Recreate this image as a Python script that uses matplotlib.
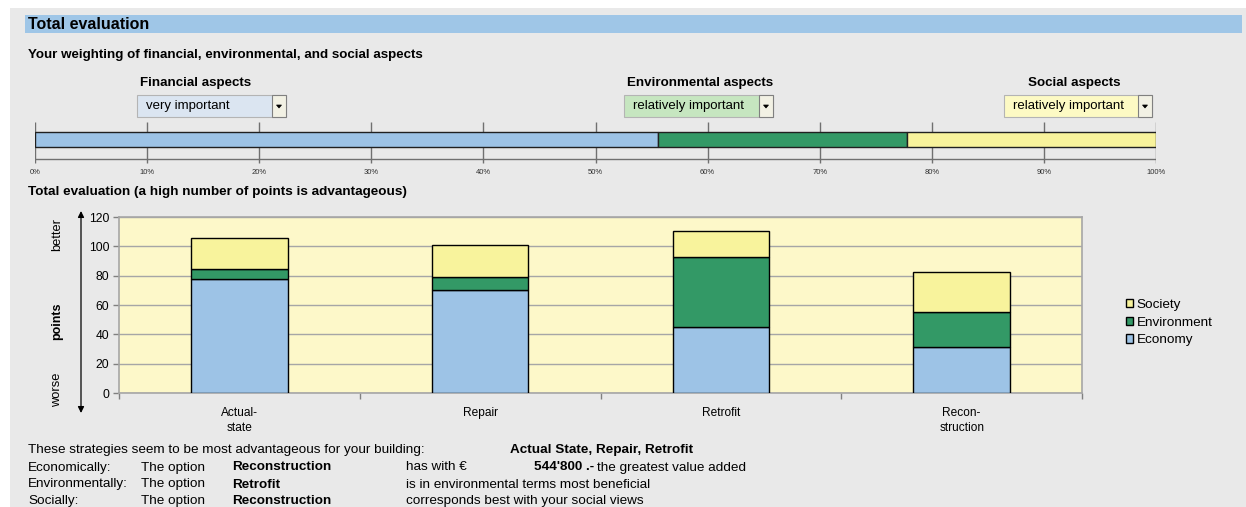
import matplotlib
matplotlib.use('Agg')
import matplotlib.pyplot as plt
from matplotlib.patches import Rectangle, Polygon

plt.rcParams['font.family'] = ['Liberation Sans', 'DejaVu Sans']

# ---------------------------------------------------------------------------
# Data
# ---------------------------------------------------------------------------

aspects = ['Financial aspects', 'Environmental aspects', 'Social aspects']
importance = ['very important', 'relatively important', 'relatively important']
weight_pct = [55.6, 22.2, 22.2]
weight_ticks = [0, 10, 20, 30, 40, 50, 60, 70, 80, 90, 100]

categories = ['Actual-\nstate', 'Repair', 'Retrofit', 'Recon-\nstruction']
economy = [77.4, 70.2, 44.8, 31.2]
environment = [7.3, 9.0, 47.6, 23.8]
society = [21.0, 22.0, 18.1, 27.4]
y_ticks = [0, 20, 40, 60, 80, 100, 120]

summary_rows = [
    ('These strategies seem to be most advantageous for your building:', '', '', ''),
    ('Economically:', 'The option', 'Reconstruction', 'has with \u20ac'),
    ('Environmentally:', 'The option', 'Retrofit', 'is in environmental terms most beneficial'),
    ('Socially:', 'The option', 'Reconstruction', 'corresponds best with your social views'),
]
best_overall = 'Actual State, Repair, Retrofit'
value_added = "544'800 .-"

# colours
C_ECO = '#9dc3e6'
C_ENV = '#339966'
C_SOC = '#f8f39c'
C_PAGE = '#e9e9e9'
C_HEAD = '#9fc6e7'
C_PLOT = '#fdf8c9'
C_GRID = '#a6a6a6'
BOX_COLS = ['#dbe5f1', '#c6e6c0', '#fdfac4']

W, H = 1246, 507


def fx(x):
    return x / W


def fy(y):
    return 1 - y / H


fig = plt.figure(figsize=(W / 100, H / 100), dpi=100)
fig.patch.set_facecolor('white')

# page background and header strip
fig.patches.append(Rectangle((fx(10), 0), 1, fy(8), transform=fig.transFigure,
                             facecolor=C_PAGE, edgecolor='none', zorder=-10))
fig.patches.append(Rectangle((fx(25), fy(33)), fx(1242 - 25), 18 / H, transform=fig.transFigure,
                             facecolor=C_HEAD, edgecolor='none', zorder=-9))
fig.text(fx(28), fy(24.5), 'Total evaluation', fontsize=11.5, fontweight='bold', va='center')
fig.text(fx(28), fy(55), 'Your weighting of financial, environmental, and social aspects',
         fontsize=9.6, fontweight='bold', va='center')

# ---------------------------------------------------------------------------
# Drop-down boxes
# ---------------------------------------------------------------------------
title_x = [140, 627, 1028]
box_x = [(137, 286), (624, 773), (1004, 1152)]
text_x = [146, 633, 1013]
for name, imp, tx, (x0, x1), bx, col in zip(aspects, importance, title_x, box_x, text_x, BOX_COLS):
    fig.text(fx(tx), fy(83), name, fontsize=9.6, fontweight='bold', va='center')
    fig.patches.append(Rectangle((fx(x0), fy(117)), fx(x1 - x0), 22 / H, transform=fig.transFigure,
                                 facecolor=col, edgecolor='#b4b4b4', lw=0.8))
    fig.patches.append(Rectangle((fx(x1 - 14), fy(117)), fx(14), 22 / H, transform=fig.transFigure,
                                 facecolor='#f2f1e4', edgecolor='#808080', lw=0.8))
    cx = x1 - 7
    fig.patches.append(Polygon([(fx(cx - 2.5), fy(105)), (fx(cx + 2.5), fy(105)), (fx(cx), fy(108))],
                               closed=True, transform=fig.transFigure, facecolor='black',
                               edgecolor='black', lw=0.5))
    fig.text(fx(bx), fy(105.5), imp, fontsize=9.5, va='center')

# ---------------------------------------------------------------------------
# Weighting bar
# ---------------------------------------------------------------------------
axw = fig.add_axes([fx(35), fy(167), fx(1156 - 35), 45 / H])
axw.set_xlim(0, 100)
axw.set_ylim(45, 0)
axw.axis('off')
axw.vlines(weight_ticks, 0, 41, color='#707070', lw=1, zorder=1)
axw.hlines(37, 0, 100, color='#707070', lw=1, zorder=1)
left = 0
for w, col in zip(weight_pct, [C_ECO, C_ENV, C_SOC]):
    axw.barh(17.5, w, left=left, height=15, color=col, edgecolor='#202020', lw=1, zorder=2)
    left += w
for t in weight_ticks:
    axw.text(t, 51, f'{t}%', fontsize=5.5, ha='center', va='center', color='#303030', clip_on=False)

fig.text(fx(28), fy(191.5), 'Total evaluation (a high number of points is advantageous)',
         fontsize=9.7, fontweight='bold', va='center')

# ---------------------------------------------------------------------------
# Stacked bar chart
# ---------------------------------------------------------------------------
ax = fig.add_axes([fx(119), fy(393), fx(1082 - 119), (393 - 217) / H])
ax.set_facecolor(C_PLOT)
xs = list(range(len(categories)))
b1 = ax.bar(xs, economy, width=0.4, color=C_ECO, edgecolor='black', lw=1, zorder=3, label='Economy')
b2 = ax.bar(xs, environment, width=0.4, bottom=economy, color=C_ENV, edgecolor='black', lw=1,
            zorder=3, label='Environment')
bottom2 = [a + b for a, b in zip(economy, environment)]
b3 = ax.bar(xs, society, width=0.4, bottom=bottom2, color=C_SOC, edgecolor='black', lw=1,
            zorder=3, label='Society')

ax.set_xlim(-0.5, len(categories) - 0.5)
ax.set_ylim(0, 120)
ax.set_yticks(y_ticks)
ax.set_yticklabels([str(v) for v in y_ticks], fontsize=8.7)
ax.yaxis.grid(True, color=C_GRID, lw=1)
ax.set_axisbelow(True)
ax.set_xticks([i - 0.5 for i in range(len(categories) + 1)])
ax.set_xticklabels([])
ax.set_xticks(xs, minor=True)
ax.set_xticklabels(categories, minor=True, fontsize=8.6, linespacing=1.35)
ax.tick_params(axis='x', which='major', length=4, color='#808080', width=1)
ax.tick_params(axis='x', which='minor', length=0, pad=10)
ax.tick_params(axis='y', length=4, color='#808080', width=1, pad=3)
for s in ax.spines.values():
    s.set_color(C_GRID)
    s.set_linewidth(1.2)

# vertical arrow and its labels
ax.annotate('', xy=(fx(81), fy(211)), xytext=(fx(81), fy(413)), xycoords='figure fraction',
            textcoords='figure fraction',
            arrowprops=dict(arrowstyle='<|-|>', color='black', lw=0.9, mutation_scale=9,
                            shrinkA=0, shrinkB=0))
fig.text(fx(57), fy(235), 'better', fontsize=9.3, rotation=90, ha='center', va='center')
fig.text(fx(57), fy(321), 'points', fontsize=9, fontweight='bold', rotation=90, ha='center', va='center')
fig.text(fx(57), fy(390), 'worse', fontsize=9.3, rotation=90, ha='center', va='center')

fig.legend([b3, b2, b1], ['Society', 'Environment', 'Economy'], loc='upper left',
           bbox_to_anchor=(fx(1126), fy(299)), frameon=False, fontsize=9.7,
           handlelength=0.55, handleheight=0.55, handletextpad=0.25, labelspacing=0.42,
           borderpad=0, borderaxespad=0)

# ---------------------------------------------------------------------------
# Summary text
# ---------------------------------------------------------------------------
row_y = [453, 470.5, 487.5, 504]   # baselines
for (c1, c2, c3, c4), y in zip(summary_rows, row_y):
    fig.text(fx(28), fy(y), c1, fontsize=9.7, va='baseline')
    fig.text(fx(141), fy(y), c2, fontsize=9.7, va='baseline')
    fig.text(fx(232), fy(y), c3, fontsize=9.7, fontweight='bold', va='baseline')
    fig.text(fx(406), fy(y), c4, fontsize=9.7, va='baseline')
fig.text(fx(510), fy(row_y[0]), best_overall, fontsize=9.7, fontweight='bold', va='baseline')
fig.text(fx(534), fy(row_y[1]), value_added, fontsize=9.7, fontweight='bold', va='baseline')
fig.text(fx(597), fy(row_y[1]), 'the greatest value added', fontsize=9.7, va='baseline')

fig.savefig('out.png', dpi=100)
